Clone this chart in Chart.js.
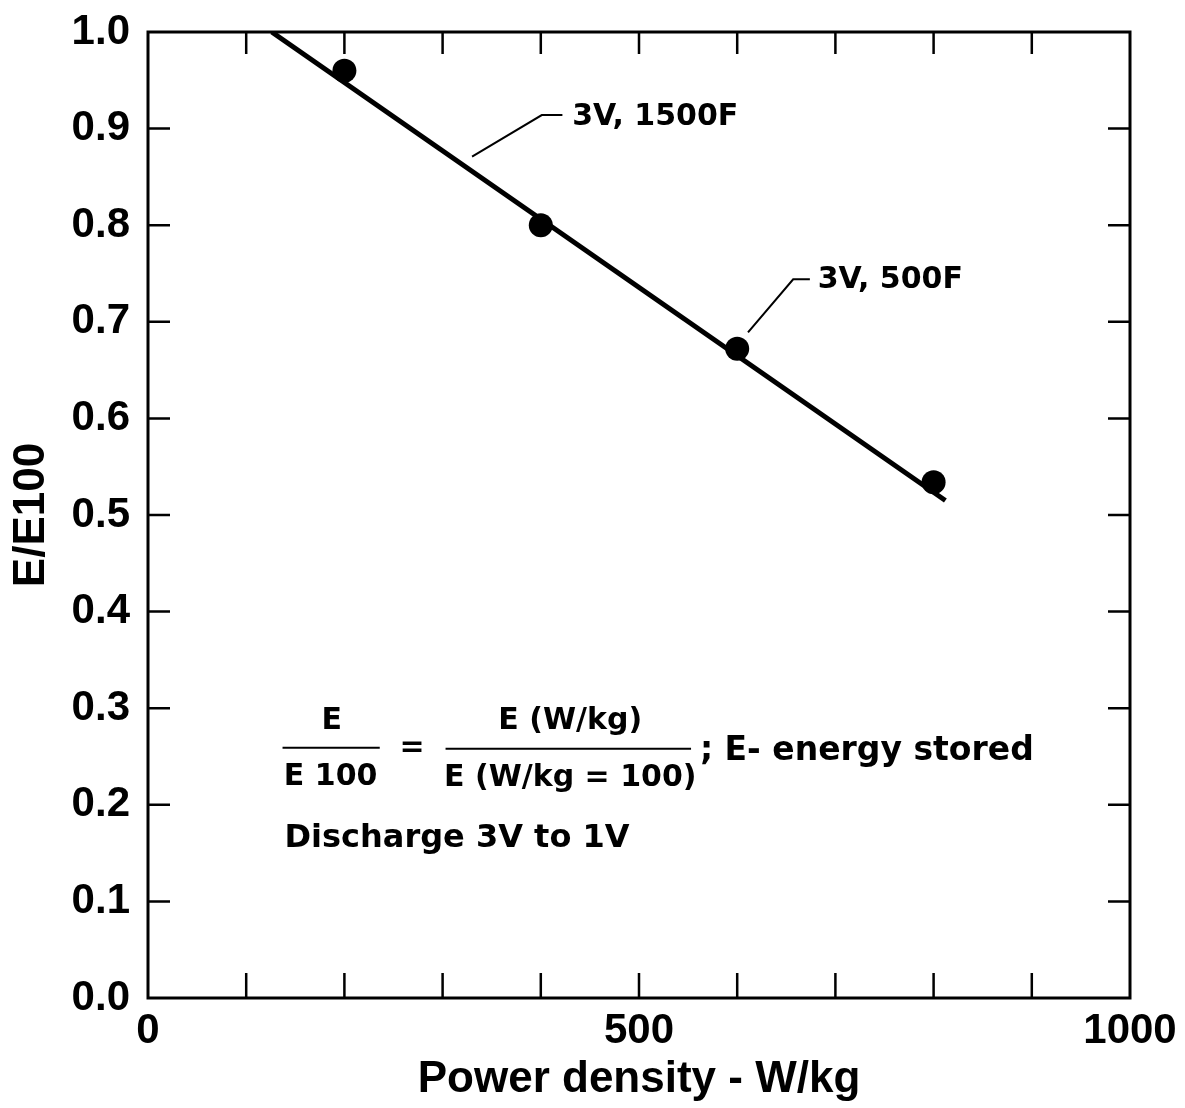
<!DOCTYPE html>
<html>
<head>
<meta charset="utf-8">
<script src="https://cdn.jsdelivr.net/npm/chart.js@4.4.1/dist/chart.umd.min.js"></script>
<style>
  html, body { margin: 0; padding: 0; background: #fff; }
  #wrap { width: 1185px; height: 1108px; }
</style>
</head>
<body>
<div id="wrap"><canvas id="c" width="1185" height="1108"></canvas></div>
<script>
// Measured energy ratio E/E100 against power density
const powerDensity = [200, 400, 600, 800];
const energyRatio = [0.96, 0.80, 0.672, 0.534];

// Straight-line fit through the measurements
const fitPower = [126, 812];
const fitRatio = [1.0, 0.515];

// Axis ticks and their labels
const xTickValues = [0, 100, 200, 300, 400, 500, 600, 700, 800, 900, 1000];
const xTickLabels = ['0', '', '', '', '', '500', '', '', '', '', '1000'];
const yTickValues = [0, 0.1, 0.2, 0.3, 0.4, 0.5, 0.6, 0.7, 0.8, 0.9, 1.0];
const yTickLabels = ['0.0', '0.1', '0.2', '0.3', '0.4', '0.5', '0.6', '0.7', '0.8', '0.9', '1.0'];

const AXIS_FONT = 'Liberation Sans';
const NOTE_FONT = '"DejaVu Sans"';

// Callouts and the formula block, placed in data coordinates
const noteTexts = [
  { text: '3V, 1500F', x: 432, y: 0.912, align: 'left', size: 30 },
  { text: '3V, 500F', x: 682, y: 0.743, align: 'left', size: 30 },
  { text: 'E', x: 187, y: 0.287, align: 'center', size: 30 },
  { text: 'E 100', x: 186, y: 0.229, align: 'center', size: 30 },
  { text: '=', x: 269, y: 0.259, align: 'center', size: 30 },
  { text: 'E (W/kg)', x: 430, y: 0.287, align: 'center', size: 30 },
  { text: 'E (W/kg = 100)', x: 430, y: 0.228, align: 'center', size: 30 },
  { text: '; E- energy stored', x: 562, y: 0.255, align: 'left', size: 33 },
  { text: 'Discharge 3V to 1V', x: 139, y: 0.165, align: 'left', size: 32 }
];
const noteLines = [
  { pts: [[330, 0.871], [401, 0.914], [422, 0.914]], width: 2 },
  { pts: [[611, 0.689], [657, 0.744], [674, 0.744]], width: 2 },
  { pts: [[137, 0.259], [236, 0.259]], width: 2 },
  { pts: [[303, 0.258], [553, 0.258]], width: 2 }
];

const framePlugin = {
  id: 'frame',
  afterDatasetsDraw(chart) {
    const { ctx, chartArea: a, scales: { x, y } } = chart;
    ctx.save();
    ctx.strokeStyle = '#000';
    ctx.lineCap = 'butt';
    // inward tick marks on all four sides
    ctx.lineWidth = 2.5;
    const tl = 22;
    xTickValues.slice(1, -1).forEach(v => {
      const px = x.getPixelForValue(v);
      ctx.beginPath();
      ctx.moveTo(px, a.bottom); ctx.lineTo(px, a.bottom - tl - 3);
      ctx.moveTo(px, a.top); ctx.lineTo(px, a.top + tl);
      ctx.stroke();
    });
    yTickValues.slice(1, -1).forEach(v => {
      const py = y.getPixelForValue(v);
      ctx.beginPath();
      ctx.moveTo(a.left, py); ctx.lineTo(a.left + tl, py);
      ctx.moveTo(a.right, py); ctx.lineTo(a.right - tl, py);
      ctx.stroke();
    });
    // plot frame
    ctx.lineWidth = 3;
    ctx.strokeRect(a.left, a.top, a.right - a.left, a.bottom - a.top);

    // callout leaders and fraction bars
    noteLines.forEach(l => {
      ctx.lineWidth = l.width;
      ctx.beginPath();
      l.pts.forEach((p, i) => {
        const px = x.getPixelForValue(p[0]), py = y.getPixelForValue(p[1]);
        if (i === 0) ctx.moveTo(px, py); else ctx.lineTo(px, py);
      });
      ctx.stroke();
    });

    ctx.fillStyle = '#000';
    ctx.textBaseline = 'middle';
    noteTexts.forEach(t => {
      ctx.font = 'bold ' + t.size + 'px ' + NOTE_FONT;
      ctx.textAlign = t.align;
      ctx.fillText(t.text, x.getPixelForValue(t.x), y.getPixelForValue(t.y));
    });
    ctx.restore();
  }
};

new Chart(document.getElementById('c'), {
  type: 'scatter',
  data: {
    datasets: [
      {
        label: 'fit',
        type: 'line',
        data: fitPower.map((p, i) => ({ x: p, y: fitRatio[i] })),
        borderColor: '#000',
        borderWidth: 5,
        pointRadius: 0,
        fill: false,
        tension: 0
      },
      {
        label: 'measured',
        data: powerDensity.map((p, i) => ({ x: p, y: energyRatio[i] })),
        pointRadius: 12,
        pointBackgroundColor: '#000',
        pointBorderWidth: 0,
        showLine: false
      }
    ]
  },
  options: {
    responsive: false,
    animation: false,
    devicePixelRatio: 1,
    layout: { padding: { top: 32, right: 55, bottom: 0, left: 0 } },
    plugins: { legend: { display: false }, tooltip: { enabled: false } },
    scales: {
      x: {
        type: 'linear',
        min: 0, max: 1000,
        afterBuildTicks: s => { s.ticks = xTickValues.map(v => ({ value: v })); },
        afterFit: s => { s.height = 110; s.paddingLeft = 0; s.paddingRight = 0; },
        ticks: {
          autoSkip: false, maxRotation: 0, padding: 8, color: '#000',
          font: { family: AXIS_FONT, weight: 'bold', size: 42 },
          callback: (v, i) => xTickLabels[i]
        },
        grid: { display: false, drawTicks: false },
        border: { display: false },
        title: {
          display: true, text: 'Power density - W/kg', color: '#000',
          font: { family: AXIS_FONT, weight: 'bold', size: 44 },
          padding: { top: 0, bottom: 2 }
        }
      },
      y: {
        type: 'linear',
        min: 0, max: 1.0,
        afterBuildTicks: s => { s.ticks = yTickValues.map(v => ({ value: v })); },
        afterFit: s => { s.width = 148; s.paddingTop = 0; s.paddingBottom = 0; },
        ticks: {
          autoSkip: false, padding: 18, color: '#000',
          font: { family: AXIS_FONT, weight: 'bold', size: 42 },
          callback: (v, i) => yTickLabels[i]
        },
        grid: { display: false, drawTicks: false },
        border: { display: false },
        title: {
          display: true, text: 'E/E100', color: '#000',
          font: { family: AXIS_FONT, weight: 'bold', size: 44 },
          padding: { top: 5, bottom: 0 }
        }
      }
    }
  },
  plugins: [framePlugin]
});
</script>
</body>
</html>
